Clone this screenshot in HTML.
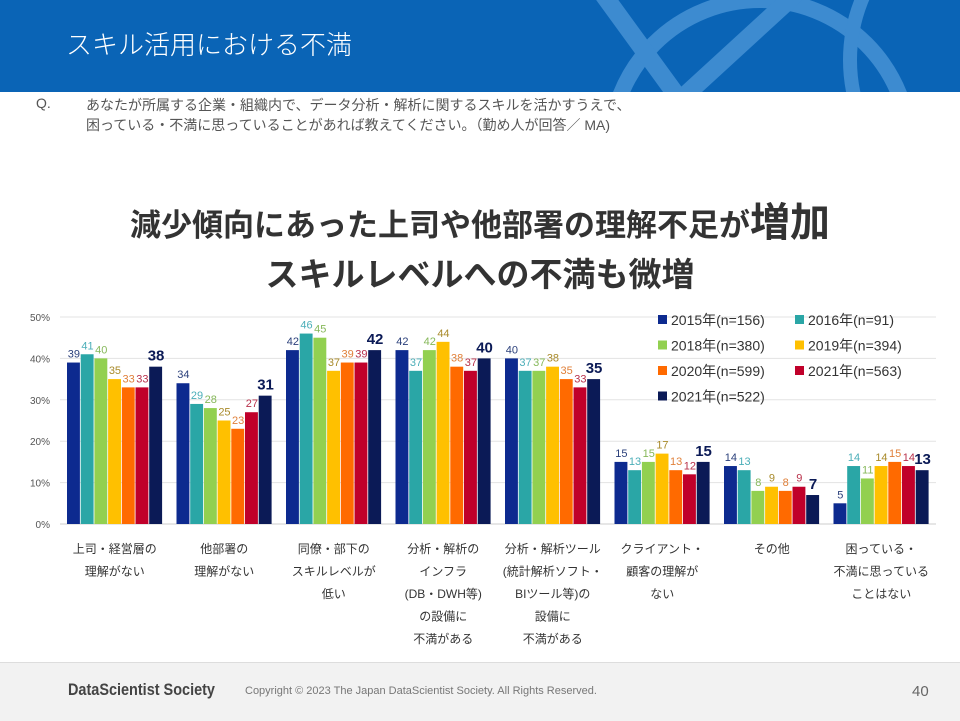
<!DOCTYPE html>
<html><head><meta charset="utf-8">
<style>
body{margin:0;width:960px;height:720px;overflow:hidden;background:#fff;font-family:"Liberation Sans","Noto Sans CJK JP",sans-serif;position:relative}
.abs{position:absolute}
</style></head>
<body>
<div class="abs" style="left:0;top:0;width:960px;height:92px;background:#0a64b6;overflow:hidden">
<svg width="960" height="92" style="position:absolute;left:0;top:0">
<circle cx="760" cy="150" r="150" fill="none" stroke="#3d8bd0" stroke-width="16"/>
<path d="M600 -10 L680 100 L800 -10" fill="none" stroke="#3d8bd0" stroke-width="18"/>
<circle cx="1010" cy="60" r="160" fill="none" stroke="#3d8bd0" stroke-width="14"/>
</svg>
<div class="abs" style="left:66px;top:25px;color:#fff;font-size:26px;font-weight:300">スキル活用における不満</div>
</div>
<div class="abs" style="left:36px;top:95px;font-size:14px;color:#555">Q.</div>
<div class="abs" style="left:86px;top:95px;font-size:14px;color:#555;line-height:20px">あなたが所属する企業・組織内で、データ分析・解析に関するスキルを活かすうえで、<br>困っている・不満に思っていることがあれば教えてください。（勤め人が回答／ MA)</div>
<div class="abs" style="left:0;width:960px;top:190px;text-align:center;font-size:31px;font-weight:bold;color:#333;white-space:nowrap">減少傾向にあった上司や他部署の理解不足が<span style="font-size:40px">増加</span></div>
<div class="abs" style="left:0;width:960px;top:248px;text-align:center;font-size:33px;font-weight:bold;color:#333">スキルレベルへの不満も微増</div>
<svg id="chart" class="abs" style="left:0;top:300px" width="960" height="360"></svg>
<div class="abs" style="left:0;top:662px;width:960px;height:58px;background:#f2f2f2;border-top:1px solid #ddd"></div>
<div class="abs" style="left:68px;top:680px;font-size:17px;font-weight:bold;color:#444;transform:scaleX(0.85);transform-origin:left">DataScientist Society</div>
<div class="abs" style="left:245px;top:685px;font-size:11px;color:#777">Copyright © 2023  The Japan DataScientist Society. All Rights Reserved.</div>
<div class="abs" style="left:912px;top:683px;font-size:15px;color:#666">40</div>
<script>
const categories=[["上司・経営層の","理解がない"],["他部署の","理解がない"],["同僚・部下の","スキルレベルが","低い"],["分析・解析の","インフラ","(DB・DWH等)","の設備に","不満がある"],["分析・解析ツール","(統計解析ソフト・","BIツール等)の","設備に","不満がある"],["クライアント・","顧客の理解が","ない"],["その他"],["困っている・","不満に思っている","ことはない"]];
const seriesNames=["2015年(n=156)","2016年(n=91)","2018年(n=380)","2019年(n=394)","2020年(n=599)","2021年(n=563)","2021年(n=522)"];
const s2015=[39,34,42,42,40,15,14,5];
const s2016=[41,29,46,37,37,13,13,14];
const s2018=[40,28,45,42,37,15,8,11];
const s2019=[35,25,37,44,38,17,9,14];
const s2020=[33,23,39,38,35,13,8,15];
const s2021=[33,27,39,37,33,12,9,14];
const s2021b=[38,31,42,40,35,15,7,13];
const yTicks=[0,10,20,30,40,50];
const series=[s2015,s2016,s2018,s2019,s2020,s2021,s2021b];
const colors=["#0d2a8f","#2aa6a6","#92d050","#ffc000","#ff6a00","#c0002a","#0b1a56"];
const labelColors=["#2a3f7a","#4aaeb8","#86b85a","#a88a2a","#e0803a","#b8304a","#0b1a56"];
const svg=document.getElementById('chart');const NS="http://www.w3.org/2000/svg";
const x0=60,x1=936,y0=224,pxPer=4.14;
const yS=v=>y0-v*pxPer;const gw=(x1-x0)/categories.length;const bw=13.7;
function el(t,a,txt){const e=document.createElementNS(NS,t);for(const k in a)e.setAttribute(k,a[k]);if(txt!==undefined)e.textContent=txt;svg.appendChild(e);return e;}
yTicks.forEach(t=>{
 const l=el('line',{x1:x0,x2:x1,y1:yS(t),y2:yS(t),stroke:t===0?'#ccc':'#e3e3e3','stroke-width':1});
 
 
 const tx=el('text',{x:50,y:yS(t)+4,'text-anchor':'end','font-size':10,fill:'#555'},t+'%');
 
 
});
categories.forEach((c,i)=>{
 const gx=x0+i*gw+7;
 series.forEach((s,j)=>{
  const v=s[i];const x=gx+j*bw;
  const r=el('rect',{x:x,y:yS(v),width:bw-0.8,height:v*pxPer,fill:colors[j]});
  
  
  const last=j===6;
  const t=el('text',{x:x+bw/2,y:yS(v)-(last?6:5),'text-anchor':'middle','font-size':last?15:11,'font-weight':last?'bold':'normal',fill:labelColors[j]},v);
  
  
 });
 c.forEach((line,k)=>{
  const t=el('text',{x:x0+i*gw+gw/2,y:253+k*22.5,'text-anchor':'middle','font-size':12,fill:'#333'},line);
  
  
 });
});
seriesNames.forEach((n,j)=>{
 const col=j%2,row=Math.floor(j/2);
 const lx=658+col*137,ly=20+row*25.5;
 const r=el('rect',{x:lx,y:ly-5,width:9,height:9,fill:colors[j]});
 
 
 const t=el('text',{x:lx+13,y:ly+5,'font-size':14,fill:'#333'},n);
 
 
});
</script>
</body></html>
